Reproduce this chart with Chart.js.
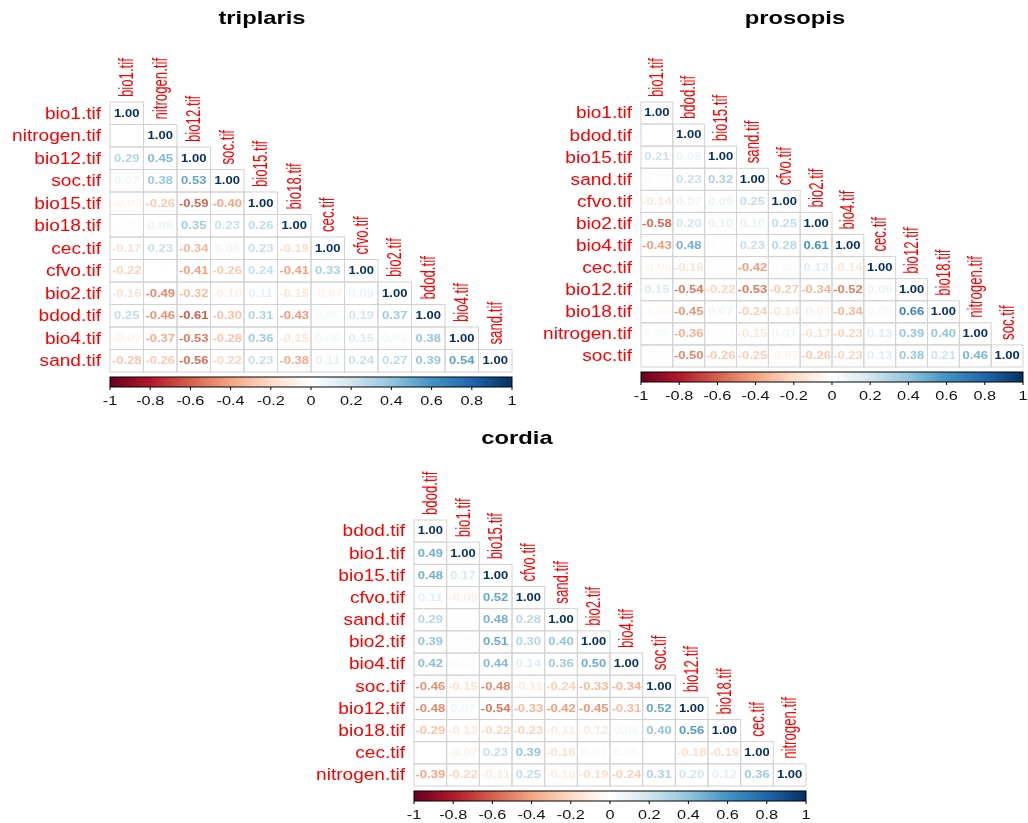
<!DOCTYPE html>
<html>
<head>
<meta charset="utf-8">
<script src="https://cdn.jsdelivr.net/npm/chart.js@4.4.1/dist/chart.umd.min.js"></script>
<style>
  html, body { margin: 0; padding: 0; background: #fff; }
  #wrap { position: relative; width: 1028px; height: 823px; }
  canvas { position: absolute; left: 0; top: 0; }
</style>
</head>
<body>
<div id="wrap">
  <canvas id="triplaris" width="1028" height="823"></canvas>
  <canvas id="prosopis" width="1028" height="823"></canvas>
  <canvas id="cordia" width="1028" height="823"></canvas>
</div>
<script>
// variable order of each matrix (rows top to bottom = columns left to right)
const triplarisVars = ["bio1.tif", "nitrogen.tif", "bio12.tif", "soc.tif", "bio15.tif", "bio18.tif",
  "cec.tif", "cfvo.tif", "bio2.tif", "bdod.tif", "bio4.tif", "sand.tif"];
const prosopisVars = ["bio1.tif", "bdod.tif", "bio15.tif", "sand.tif", "cfvo.tif", "bio2.tif",
  "bio4.tif", "cec.tif", "bio12.tif", "bio18.tif", "nitrogen.tif", "soc.tif"];
const cordiaVars = ["bdod.tif", "bio1.tif", "bio15.tif", "cfvo.tif", "sand.tif", "bio2.tif",
  "bio4.tif", "soc.tif", "bio12.tif", "bio18.tif", "cec.tif", "nitrogen.tif"];

// lower triangle, one row per variable
const triplarisValues = [
  [1.00],
  [0.01, 1.00],
  [0.29, 0.45, 1.00],
  [0.07, 0.38, 0.53, 1.00],
  [-0.07, -0.26, -0.59, -0.40, 1.00],
  [-0.02, 0.08, 0.35, 0.23, 0.26, 1.00],
  [-0.17, 0.23, -0.34, 0.06, 0.23, -0.19, 1.00],
  [-0.22, 0.01, -0.41, -0.26, 0.24, -0.41, 0.33, 1.00],
  [-0.16, -0.49, -0.32, -0.10, 0.11, -0.15, -0.07, 0.09, 1.00],
  [0.25, -0.46, -0.61, -0.30, 0.31, -0.43, 0.05, 0.19, 0.37, 1.00],
  [-0.07, -0.37, -0.53, -0.28, 0.36, -0.15, 0.06, 0.15, 0.05, 0.38, 1.00],
  [-0.28, -0.26, -0.56, -0.22, 0.23, -0.38, 0.11, 0.24, 0.27, 0.39, 0.54, 1.00]
];
const prosopisValues = [
  [1.00],
  [0.01, 1.00],
  [0.21, 0.08, 1.00],
  [0.03, 0.23, 0.32, 1.00],
  [-0.14, 0.07, 0.09, 0.25, 1.00],
  [-0.58, 0.20, 0.10, 0.10, 0.25, 1.00],
  [-0.43, 0.48, -0.03, 0.23, 0.28, 0.61, 1.00],
  [-0.06, -0.16, -0.01, -0.42, 0.03, 0.13, -0.14, 1.00],
  [0.15, -0.54, -0.22, -0.53, -0.27, -0.34, -0.52, 0.09, 1.00],
  [-0.04, -0.45, 0.07, -0.24, -0.14, -0.07, -0.34, 0.05, 0.66, 1.00],
  [0.05, -0.36, -0.02, -0.15, 0.07, -0.17, -0.23, 0.13, 0.39, 0.40, 1.00],
  [-0.02, -0.50, -0.26, -0.25, -0.07, -0.26, -0.23, 0.13, 0.38, 0.21, 0.46, 1.00]
];
const cordiaValues = [
  [1.00],
  [0.49, 1.00],
  [0.48, 0.17, 1.00],
  [0.11, -0.09, 0.52, 1.00],
  [0.29, 0.01, 0.48, 0.28, 1.00],
  [0.39, -0.02, 0.51, 0.30, 0.40, 1.00],
  [0.42, 0.03, 0.44, 0.14, 0.36, 0.50, 1.00],
  [-0.46, -0.15, -0.48, -0.11, -0.24, -0.33, -0.34, 1.00],
  [-0.48, 0.07, -0.54, -0.33, -0.42, -0.45, -0.31, 0.52, 1.00],
  [-0.29, -0.13, -0.22, -0.23, -0.11, -0.12, 0.05, 0.40, 0.56, 1.00],
  [0.01, -0.07, 0.23, 0.39, -0.16, 0.04, 0.05, 0.01, -0.18, -0.19, 1.00],
  [-0.39, -0.22, -0.11, 0.25, -0.10, -0.19, -0.24, 0.31, 0.20, 0.12, 0.36, 1.00]
];

const colorbarTicks = [-1, -0.8, -0.6, -0.4, -0.2, 0, 0.2, 0.4, 0.6, 0.8, 1];
const rdbu = ["#67001F", "#B2182B", "#D6604D", "#F4A582", "#FDDBC7", "#FFFFFF",
  "#D1E5F0", "#92C5DE", "#4393C3", "#2166AC", "#053061"];

const FONT = "'Liberation Sans', Arial, sans-serif";

function hexToRgb(h) {
  return [parseInt(h.slice(1, 3), 16), parseInt(h.slice(3, 5), 16), parseInt(h.slice(5, 7), 16)];
}

function corrColor(v) {
  const t = (Math.max(-1, Math.min(1, v)) + 1) / 2 * (rdbu.length - 1);
  const i = Math.min(Math.floor(t), rdbu.length - 2);
  const f = t - i;
  const a = hexToRgb(rdbu[i]);
  const b = hexToRgb(rdbu[i + 1]);
  const c = a.map((x, k) => Math.round(x + (b[k] - x) * f));
  return "rgb(" + c.join(",") + ")";
}

function scaledText(ctx, text, x, y, sx, sy) {
  ctx.save();
  ctx.translate(x, y);
  ctx.scale(sx, sy);
  ctx.fillText(text, 0, 0);
  ctx.restore();
}

const corrPlugin = {
  id: "corrMatrix",
  afterDraw(chart) {
    const ctx = chart.ctx;
    const xs = chart.scales.x;
    const ys = chart.scales.y;
    const cb = chart.scales.cb;
    const opts = chart.options.plugins.corrMatrix;
    const vars = opts.vars;
    const area = chart.chartArea;

    // cells
    chart.data.datasets[0].data.forEach((p) => {
      const x0 = xs.getPixelForValue(p.col);
      const x1 = xs.getPixelForValue(p.col + 1);
      const y0 = ys.getPixelForValue(p.row);
      const y1 = ys.getPixelForValue(p.row + 1);
      ctx.strokeStyle = "#d2d2d2";
      ctx.lineWidth = 1;
      ctx.strokeRect(x0, y0, x1 - x0, y1 - y0);
    });
    ctx.font = "bold 10px " + FONT;
    ctx.textAlign = "center";
    ctx.textBaseline = "middle";
    chart.data.datasets[0].data.forEach((p) => {
      ctx.fillStyle = corrColor(p.r);
      scaledText(ctx, p.r.toFixed(2), xs.getPixelForValue(p.col + 0.5),
        ys.getPixelForValue(p.row + 0.5) + 0.5, 1.3, 1);
    });

    // row labels
    ctx.fillStyle = "#FF0000";
    ctx.font = "16px " + FONT;
    ctx.textAlign = "right";
    vars.forEach((name, i) => {
      scaledText(ctx, name, area.left - 9, ys.getPixelForValue(i + 0.5) + 1, 1.19, 1);
    });

    // column labels, rotated above the diagonal
    ctx.font = "20px " + FONT;
    ctx.textAlign = "left";
    vars.forEach((name, j) => {
      ctx.save();
      ctx.translate(xs.getPixelForValue(j + 0.5) + 1, ys.getPixelForValue(j) - 5);
      ctx.rotate(-Math.PI / 2);
      ctx.scale(0.66, 1);
      ctx.fillText(name, 0, 0);
      ctx.restore();
    });

    // title
    ctx.fillStyle = "#000";
    ctx.font = "bold 19px " + FONT;
    ctx.textAlign = "center";
    scaledText(ctx, opts.title, opts.titleX, opts.titleY, 1.25, 1);

    // colour bar
    const bx0 = cb.getPixelForValue(-1);
    const bx1 = cb.getPixelForValue(1);
    const by = area.bottom + 5;
    const bh = 10;
    const grad = ctx.createLinearGradient(bx0, 0, bx1, 0);
    rdbu.forEach((c, k) => grad.addColorStop(k / (rdbu.length - 1), c));
    ctx.fillStyle = grad;
    ctx.fillRect(bx0, by, bx1 - bx0, bh);
    ctx.strokeStyle = "#000";
    ctx.lineWidth = 1;
    ctx.strokeRect(bx0, by, bx1 - bx0, bh);
    ctx.font = "13px " + FONT;
    ctx.fillStyle = "#111";
    colorbarTicks.forEach((t) => {
      const x = cb.getPixelForValue(t);
      ctx.beginPath();
      ctx.moveTo(x, by + bh);
      ctx.lineTo(x, by + bh + 3);
      ctx.stroke();
      scaledText(ctx, String(t), x, by + bh + 14, 1.25, 1);
    });
  }
};

function makePanel(id, title, vars, values, box, titleX, titleY) {
  const points = [];
  values.forEach((row, i) => row.forEach((r, j) => {
    points.push({ x: j + 0.5, y: i + 0.5, row: i, col: j, r: r });
  }));
  new Chart(document.getElementById(id), {
    type: "scatter",
    data: { datasets: [{ data: points, pointRadius: 0, pointHoverRadius: 0 }] },
    options: {
      responsive: false,
      animation: false,
      events: [],
      layout: {
        padding: { left: box[0], top: box[1], right: 1028 - box[2], bottom: 823 - box[3] }
      },
      scales: {
        x: { type: "linear", min: 0, max: vars.length, display: false },
        y: { type: "linear", min: 0, max: vars.length, reverse: true, display: false },
        cb: { type: "linear", axis: "x", min: -1, max: 1, display: false }
      },
      plugins: {
        legend: { display: false },
        tooltip: { enabled: false },
        corrMatrix: { vars: vars, title: title, titleX: titleX, titleY: titleY }
      }
    },
    plugins: [corrPlugin]
  });
}

makePanel("triplaris", "triplaris", triplarisVars, triplarisValues, [110, 102, 512, 372], 262, 19);
makePanel("prosopis", "prosopis", prosopisVars, prosopisValues, [641, 102, 1023, 367], 795, 19);
makePanel("cordia", "cordia", cordiaVars, cordiaValues, [414, 520, 806, 786], 517, 439);
</script>
</body>
</html>
